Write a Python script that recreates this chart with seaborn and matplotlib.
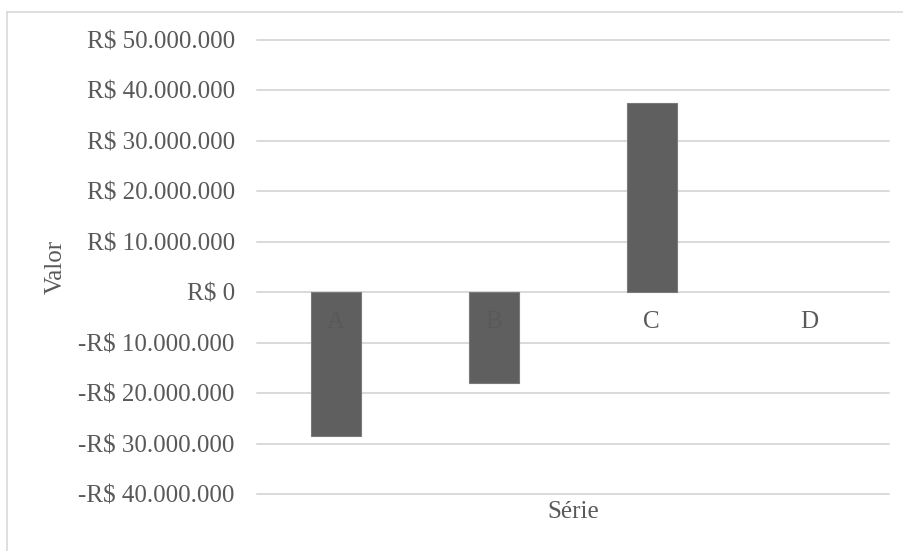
import matplotlib
matplotlib.use("Agg")
import matplotlib.pyplot as plt
from matplotlib.lines import Line2D
from matplotlib.ticker import FuncFormatter, MultipleLocator
import seaborn as sns
import pandas as pd

# Chart data
categories = ["A", "B", "C", "D"]
values = [-28_500_000, -18_000_000, 37_500_000, 0]
y_min, y_max, y_step = -40_000_000, 50_000_000, 10_000_000

sns.set_theme(style="white")
plt.rcParams["font.family"] = ["Liberation Serif", "DejaVu Serif"]

text_color = "#595959"
grid_color = "#d9d9d9"
bar_color = "#5f5f5f"
fs = 18

df = pd.DataFrame({"Série": categories, "Valor": values})

W, H = 904, 551
fig = plt.figure(figsize=(W / 100, H / 100), dpi=100)
ax = fig.add_axes([257 / W, 1 - 494.4 / H, (888.7 - 257) / W, (494.4 - 39.7) / H])

sns.barplot(data=df, x="Série", y="Valor", order=categories, color=bar_color,
            saturation=1, width=0.314, ax=ax, zorder=3, linewidth=0)

# thin lighter outline on bars that have a height
for patch in ax.patches:
    if patch.get_height() != 0:
        patch.set_edgecolor("#7a7a7a")
        patch.set_linewidth(0.8)

ax.set_ylim(y_min, y_max)
ax.yaxis.set_major_locator(MultipleLocator(y_step))


def brl(v, _pos):
    n = int(round(v))
    s = f"{abs(n):,}".replace(",", ".")
    return ("-R$ " if n < 0 else "R$ ") + s


ax.yaxis.set_major_formatter(FuncFormatter(brl))
ax.tick_params(axis="y", length=0, pad=16, labelsize=fs, labelcolor=text_color)
ax.tick_params(axis="x", length=0, labelbottom=False)
ax.grid(axis="y", color=grid_color, linewidth=1.4, zorder=0)
ax.grid(axis="x", visible=False)
ax.set_axisbelow(True)
for gl in ax.get_ygridlines():
    gl.set_clip_on(False)
for sp in ax.spines.values():
    sp.set_visible(False)
ax.set_xlabel("")
ax.set_ylabel("")

# Category names sit just under the zero line
for i, name in enumerate(categories):
    ax.annotate(name, xy=(i, 0), xytext=(0, -21.7), textcoords="offset points",
                ha="center", va="center", fontsize=fs, color=text_color, zorder=4)

fig.text(572.9 / W, 1 - 512 / H, "Série", ha="center", va="center",
         fontsize=fs, color=text_color)
fig.text(56 / W, 1 - 267 / H, "Valor", ha="center", va="center",
         rotation=90, fontsize=fs, color=text_color)

# Light frame along the top and left edges
fig.add_artist(Line2D([7.3 / W, 7.3 / W], [0, 1 - 12.3 / H], transform=fig.transFigure,
                      color=grid_color, linewidth=1.2))
fig.add_artist(Line2D([7.3 / W, 1], [1 - 12.3 / H, 1 - 12.3 / H], transform=fig.transFigure,
                      color=grid_color, linewidth=1.2))

fig.savefig("out.png", dpi=100, facecolor="white")
